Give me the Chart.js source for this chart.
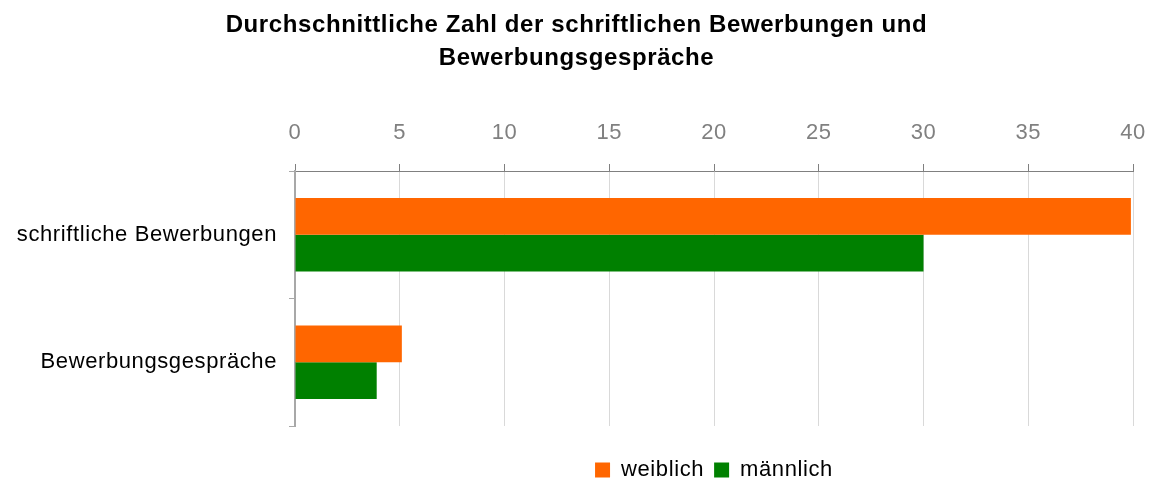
<!DOCTYPE html>
<html>
<head>
<meta charset="utf-8">
<script src="https://cdn.jsdelivr.net/npm/chart.js@4"></script>
<style>
    html, body { margin: 0; padding: 0; background: #fff; }
    #wrap { width: 1153px; height: 481px; }
</style>
</head>
<body>
<div id="wrap"><canvas id="chart"></canvas></div>
<script>
// Daten
const categories = ['schriftliche Bewerbungen', 'Bewerbungsgespräche'];
const weiblich = [39.9, 5.1];
const maennlich = [30, 3.9];
const seriesNames = ['weiblich', 'männlich'];
const titleLines = ['Durchschnittliche Zahl der schriftlichen Bewerbungen und', 'Bewerbungsgespräche'];

Chart.defaults.font.family = '"Liberation Sans", Arial, sans-serif';

// etwas breitere Laufweite wie im Original
const spacingPlugin = {
    id: 'spacing',
    beforeUpdate(chart) { chart.ctx.letterSpacing = '0.6px'; },
    beforeDraw(chart) { chart.ctx.letterSpacing = '0.6px'; },
};

new Chart(document.getElementById('chart'), {
    type: 'bar',
    data: {
        labels: categories,
        datasets: [
            { label: seriesNames[0], data: weiblich, backgroundColor: '#ff6600' },
            { label: seriesNames[1], data: maennlich, backgroundColor: '#008000' },
        ],
    },
    plugins: [spacingPlugin],
    options: {
        indexAxis: 'y',
        responsive: true,
        maintainAspectRatio: false,
        animation: false,
        layout: { padding: { left: 0, right: 0, top: 9, bottom: -10 } },
        datasets: { bar: { categoryPercentage: 0.575, barPercentage: 1 } },
        plugins: {
            title: {
                display: true,
                text: titleLines,
                color: '#000',
                font: { size: 24, weight: 'bold', lineHeight: 1.375 },
                padding: { top: 0, bottom: 8 },
            },
            legend: {
                position: 'bottom',
                fullSize: false,
                title: { display: true, text: ' ', font: { size: 10, lineHeight: 1 }, padding: { top: 13, bottom: 0 } },
                labels: {
                    color: '#000',
                    font: { size: 22 },
                    boxWidth: 15,
                    boxHeight: 15,
                    padding: 10,
                },
            },
            tooltip: { enabled: false },
        },
        scales: {
            x: {
                position: 'top',
                min: 0,
                max: 40,
                ticks: { stepSize: 5, color: '#808080', font: { size: 22 }, padding: 18 },
                grid: { color: '#d9d9d9', tickColor: '#808080', tickLength: 7 },
                border: { color: '#808080' },
                afterFit(scale) {
                    scale.height = 88;
                    scale.paddingLeft = 0;
                    scale.paddingRight = 20;
                },
            },
            y: {
                ticks: { color: '#000', font: { size: 22 }, padding: 12 },
                grid: { drawOnChartArea: false, offset: true, tickColor: '#a8a8a8', tickLength: 6 },
                border: { color: '#a8a8a8', width: 2 },
                afterFit(scale) { scale.width = 295; },
            },
        },
    },
});
</script>
</body>
</html>
